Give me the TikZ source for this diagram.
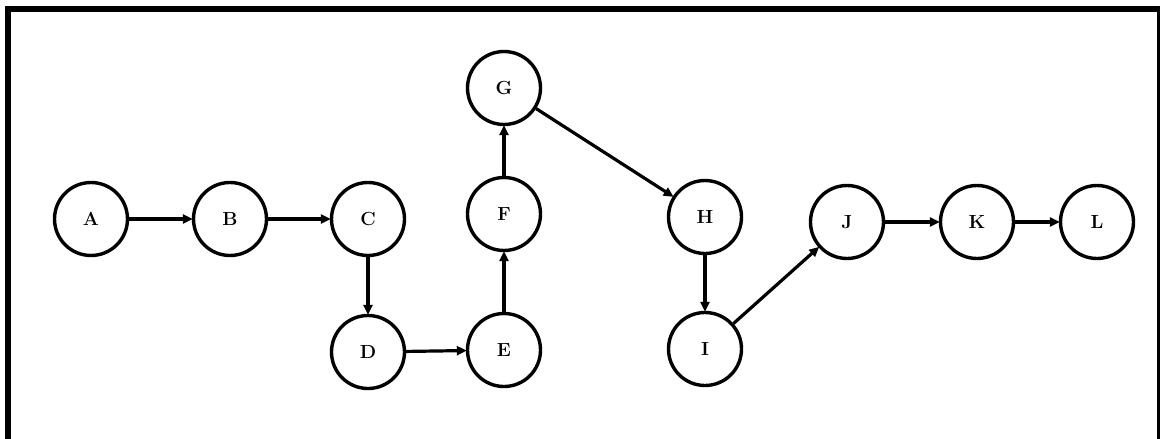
\documentclass[tikz,border=0pt]{standalone}
\usetikzlibrary{arrows.meta}
\begin{document}
\begin{tikzpicture}[x=1pt,y=-1pt,
  vnode/.style={circle,draw=black,line width=3.4pt,minimum size=73pt,inner sep=0pt,
    font=\fontsize{19}{22}\selectfont\bfseries},
  arr/.style={line width=3.2pt,-{Triangle[length=10pt,width=9pt]},shorten >=-1pt}]
\useasboundingbox (0,0) rectangle (1160,439);
\draw[line width=6pt] (8,445) -- (8,9) -- (1160,9) -- (1160,445);
\node[vnode] (A) at (91,219) {A};
\node[vnode] (B) at (230,219) {B};
\node[vnode] (C) at (368,219) {C};
\node[vnode] (D) at (368,352) {D};
\node[vnode] (E) at (504,350) {E};
\node[vnode] (F) at (504,214) {F};
\node[vnode] (G) at (504,88) {G};
\node[vnode] (H) at (705,217) {H};
\node[vnode] (I) at (705,349) {I};
\node[vnode] (J) at (847,222) {J};
\node[vnode] (K) at (977,222) {K};
\node[vnode] (L) at (1097,222) {L};
\draw[arr] (A) -- (B);
\draw[arr] (B) -- (C);
\draw[arr] (C) -- (D);
\draw[arr] (D) -- (E);
\draw[arr] (E) -- (F);
\draw[arr] (F) -- (G);
\draw[arr] (G) -- (H);
\draw[arr] (H) -- (I);
\draw[arr] (I) -- (J);
\draw[arr] (J) -- (K);
\draw[arr] (K) -- (L);
\end{tikzpicture}
\end{document}
